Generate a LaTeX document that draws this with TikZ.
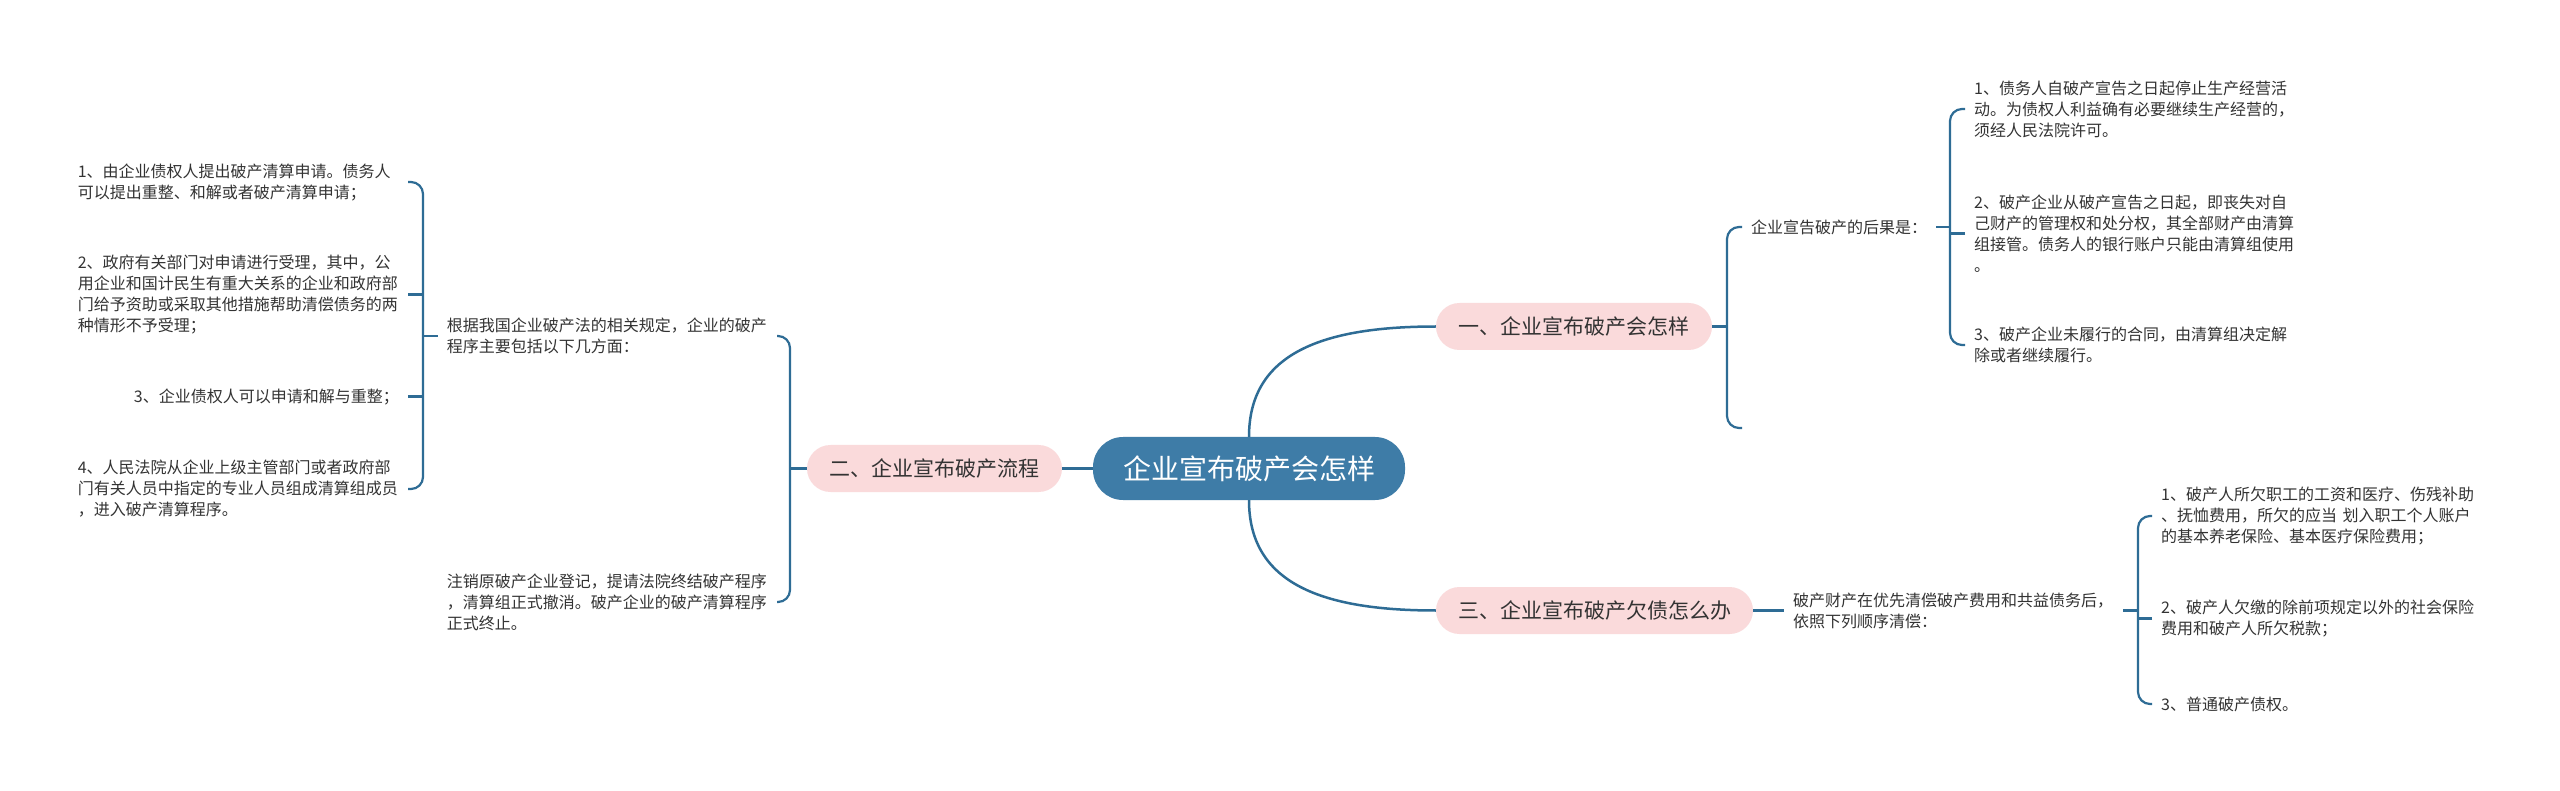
\documentclass[tikz,border=0pt]{standalone}
\usepackage{fontspec}
\setmainfont{Noto Sans CJK SC}
\definecolor{lineblue}{HTML}{2E6C95}
\definecolor{centerblue}{HTML}{3E7CA7}
\definecolor{pinkfill}{HTML}{FADADB}
\definecolor{txt}{HTML}{333333}
\begin{document}
\begin{tikzpicture}[x=1pt,y=-1pt,
  mainline/.style={draw=lineblue,line width=2.5pt},
  brace/.style={draw=lineblue,line width=2.2pt,rounded corners=12pt},
  rootbox/.style={fill=centerblue,text=white,rounded corners=30pt,minimum width=312pt,minimum height=63pt,inner sep=0pt,font=\fontsize{28}{32}\selectfont},
  branchbox/.style={fill=pinkfill,text=txt,rounded corners=23.5pt,minimum height=47pt,inner sep=0pt,font=\fontsize{21}{25}\selectfont},
  leaf/.style={text=txt,font=\fontsize{16}{21}\selectfont,inner xsep=9pt,inner ysep=3pt,align=left},
  leafw/.style={leaf,text width=321pt}]
\useasboundingbox (0,0) rectangle (2560,791);
\fill[white] (0,0) rectangle (2560,791);

% root and branches
\node[rootbox] (C) at (1249,468.5) {企业宣布破产会怎样};
\node[branchbox,minimum width=276pt] (B1) at (1574,326.5) {一、企业宣布破产会怎样};
\node[branchbox,minimum width=255pt] (B2) at (934.5,468.5) {二、企业宣布破产流程};
\node[branchbox,minimum width=317pt] (B3) at (1594.5,610.5) {三、企业宣布破产欠债怎么办};

\draw[mainline] (C.north) .. controls +(0,-80) and +(-120,0) .. (B1.west);
\draw[mainline] (C.south) .. controls +(0,80) and +(-120,0) .. (B3.west);
\draw[mainline] (C.west) -- (B2.east);

% branch 1
\node[leaf,anchor=west] (L1) at (1742,227) {企业宣告破产的后果是：};
\coordinate (j1) at (1727,326.5);
\coordinate (e1) at (1742,428);
\coordinate (j2) at (1950,227);
\node[leafw,anchor=west] (T11) at (1965,109) {1、债务人自破产宣告之日起停止生产经营活\\动。为债权人利益确有必要继续生产经营的，\\须经人民法院许可。};
\node[leafw,anchor=west] (T12) at (1965,233.5) {2、破产企业从破产宣告之日起，即丧失对自\\己财产的管理权和处分权，其全部财产由清算\\组接管。债务人的银行账户只能由清算组使用\\。};
\node[leafw,anchor=west] (T13) at (1965,345) {3、破产企业未履行的合同，由清算组决定解\\除或者继续履行。};

\draw[brace] (B1.east) -- (j1);
\draw[brace] (L1.west) -| (j1) |- (e1);
\draw[brace] (L1.east) -- (j2);
\draw[brace] (T11.west) -| (j2) |- (T13.west);
\draw[brace] (T12.west) -- (T12.west -| j2);

% branch 3
\node[leafw,anchor=west] (L3) at (1784,610.5) {破产财产在优先清偿破产费用和共益债务后，\\依照下列顺序清偿：};
\coordinate (j3) at (2138,610.5);
\node[leafw,anchor=west] (T31) at (2152,516) {1、破产人所欠职工的工资和医疗、伤残补助\\、抚恤费用，所欠的应当 划入职工个人账户\\的基本养老保险、基本医疗保险费用；};
\node[leafw,anchor=west] (T32) at (2152,618.5) {2、破产人欠缴的除前项规定以外的社会保险\\费用和破产人所欠税款；};
\node[leaf,anchor=west] (T33) at (2152,704) {3、普通破产债权。};

\draw[brace] (B3.east) -- (L3.west);
\draw[brace] (L3.east) -- (j3);
\draw[brace] (T31.west) -| (j3) |- (T33.west);
\draw[brace] (T32.west) -- (T32.west -| j3);

% branch 2
\coordinate (j4) at (790,468.5);
\node[leafw,anchor=east] (L2a) at (777,336) {根据我国企业破产法的相关规定，企业的破产\\程序主要包括以下几方面：};
\node[leafw,anchor=east] (L2b) at (777,602) {注销原破产企业登记，提请法院终结破产程序\\，清算组正式撤消。破产企业的破产清算程序\\正式终止。};
\coordinate (j5) at (423,336);
\node[leafw,anchor=east] (T21) at (408,182) {1、由企业债权人提出破产清算申请。债务人\\可以提出重整、和解或者破产清算申请；};
\node[leafw,anchor=east] (T22) at (408,294.5) {2、政府有关部门对申请进行受理，其中，公\\用企业和国计民生有重大关系的企业和政府部\\门给予资助或采取其他措施帮助清偿债务的两\\种情形不予受理；};
\node[leaf,anchor=east] (T23) at (408,396.5) {3、企业债权人可以申请和解与重整；};
\node[leafw,anchor=east] (T24) at (408,489) {4、人民法院从企业上级主管部门或者政府部\\门有关人员中指定的专业人员组成清算组成员\\，进入破产清算程序。};

\draw[brace] (B2.west) -- (j4);
\draw[brace] (L2a.east) -| (j4) |- (L2b.east);
\draw[brace] (L2a.west) -- (j5);
\draw[brace] (T21.east) -| (j5) |- (T24.east);
\draw[brace] (T22.east) -- (T22.east -| j5);
\draw[brace] (T23.east) -- (T23.east -| j5);
\end{tikzpicture}
\end{document}
